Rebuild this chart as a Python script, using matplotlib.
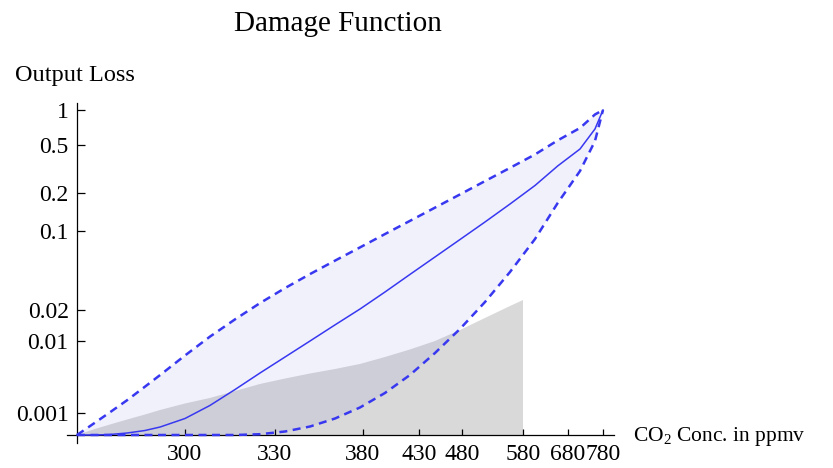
import numpy as np
import matplotlib
matplotlib.use("Agg")
import matplotlib.pyplot as plt

plt.rcParams['font.family'] = ['Liberation Serif', 'DejaVu Serif']
plt.rcParams['mathtext.default'] = 'regular'

# CO2 concentration (ppmv) sample points
conc = [280, 283.3, 286.1, 289.3, 292.6, 295.4, 300, 308.3, 316.7, 325,
        335.7, 349.9, 364.1, 378.3, 399.6, 421.9, 448.6, 477.7, 517.7, 558.7,
        606.7, 657.1, 714.3, 757.1, 780]
# central damage estimate (solid)
loss_mid = [0, 0, 0.000023, 0.000091, 0.000205, 0.000364, 0.00075, 0.00194,
            0.00394, 0.006, 0.008, 0.01, 0.0152, 0.021, 0.0382, 0.056,
            0.0737, 0.0914, 0.1237, 0.171, 0.247, 0.369, 0.475, 0.729, 1.0]
# upper bound (dashed)
loss_high = [0, 0.000555, 0.00109, 0.00261, 0.0043, 0.00575, 0.00819, 0.0114,
             0.017, 0.027, 0.0422, 0.0564, 0.07, 0.0834, 0.0969, 0.1266,
             0.1615, 0.1963, 0.2744, 0.357, 0.441, 0.566, 0.743, 0.936, 1.0]
# lower bound (dashed)
loss_low = [0, 0, 0, 0, 0, 0, 0, 0, 0, 0.000036, 0.000159, 0.000386, 0.00075,
            0.00169, 0.0035, 0.00575, 0.0085, 0.0139, 0.0281, 0.0585, 0.0919,
            0.1736, 0.3375, 0.557, 1.0]
# grey area
grey_conc = [280, 283.3, 286.1, 289.3, 292.6, 295.4, 300, 308.3, 316.7, 325,
             335.7, 349.9, 364.1, 378.3, 399.6, 421.9, 448.6, 477.7, 517.7,
             558.7, 580]
grey_loss = [0, 0.000273, 0.000477, 0.000705, 0.000932, 0.00138, 0.00219,
             0.00288, 0.00375, 0.00463, 0.00531, 0.00594, 0.0065, 0.00713,
             0.008, 0.00894, 0.01, 0.01355, 0.01743, 0.02405, 0.0301]

xticks = [300, 330, 380, 430, 480, 580, 680, 780]
yticks = [0.001, 0.01, 0.02, 0.1, 0.2, 0.5, 1]
ytick_labels = ['0.001', '0.01', '0.02', '0.1', '0.2', '0.5', '1']

# axis scales (Mathematica style custom scaling)
xs_val = [260, 280, 300, 330, 380, 430, 480, 580, 680, 780, 880]
xs_pos = [-108, 0, 108, 198, 286, 342, 385, 446, 491, 526, 561]
ys_val = [-0.001, 0, 0.001, 0.01, 0.02, 0.1, 0.2, 0.5, 1, 1.5]
ys_pos = [-22, 0, 22, 94, 125, 204, 242, 290, 325, 360]


def xf(v):
    return np.interp(v, xs_val, xs_pos)


def xi(v):
    return np.interp(v, xs_pos, xs_val)


def yf(v):
    return np.interp(v, ys_val, ys_pos)


def yi(v):
    return np.interp(v, ys_pos, ys_val)


fig = plt.figure(figsize=(8.33, 4.68), dpi=100)
ax = fig.add_axes([67 / 833, 1 - 443 / 468, (614 - 67) / 833, (443 - 103) / 468])
ax.set_xscale('function', functions=(xf, xi))
ax.set_yscale('function', functions=(yf, yi))
ax.set_xlim(xi(-10), xi(537))
ax.set_ylim(yi(-8), yi(332))

line_col = '#3838f0'
ax.fill_between(grey_conc, 0, grey_loss, facecolor='#d9d9d9', lw=0, zorder=1)
ax.fill_between(conc, loss_low, loss_high, facecolor='#6969e1', alpha=0.09,
                lw=0, zorder=2)
ax.plot(conc, loss_mid, color=line_col, lw=1.1, zorder=3)
ax.plot(conc, loss_high, color=line_col, lw=1.8, dashes=(3.2, 2.2), zorder=3)
ax.plot(conc, loss_low, color=line_col, lw=1.8, dashes=(3.2, 2.2), zorder=3)

for s in ['top', 'right']:
    ax.spines[s].set_visible(False)
ax.spines['left'].set_position(('data', 280))
ax.spines['bottom'].set_position(('data', 0))
for s in ['left', 'bottom']:
    ax.spines[s].set_linewidth(0.9)

ax.set_xticks(xticks)
ax.set_xticklabels([str(t) for t in xticks])
ax.set_yticks(yticks)
ax.set_yticklabels(ytick_labels)
ax.minorticks_off()
ax.tick_params(axis='x', direction='in', length=4, width=0.9, pad=6.5,
               labelsize=17)
ax.tick_params(axis='y', direction='in', length=5.5, width=0.9, pad=6,
               labelsize=17)

fig.text(338 / 833, 1 - 24 / 468, 'Damage Function', ha='center',
         va='center', fontsize=21)
fig.text(15 / 833, 1 - 75 / 468, 'Output Loss', ha='left', va='center',
         fontsize=17.5)
fig.text(633 / 833, 1 - 436 / 468, 'CO$_2$ Conc. in ppmv', ha='left',
         va='center', fontsize=15.5)

fig.savefig('out.png', dpi=100)
